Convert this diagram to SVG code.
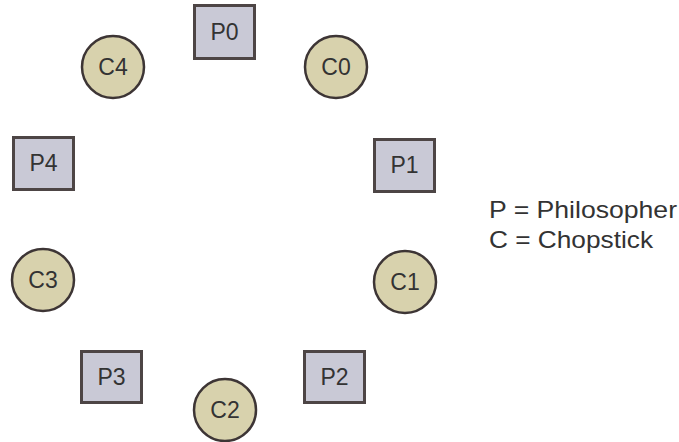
<svg xmlns="http://www.w3.org/2000/svg" width="679" height="442" viewBox="0 0 679 442">
<style>
.p{fill:#c9c9d6;stroke:#4d4545;stroke-width:3}
.c{fill:#d8d2ad;stroke:#3d3535;stroke-width:2.5}
.t{font-family:"Liberation Sans",Arial,sans-serif;font-size:23px;fill:#333;text-anchor:middle}
.l{font-family:"Liberation Sans",Arial,sans-serif;font-size:24px;fill:#333}
</style>
<rect width="679" height="442" fill="#fff"/>
<g id="P0"><rect class="p" x="194.5" y="5.5" width="60" height="53"/><text class="t" x="224.5" y="40">P0</text></g>
<g id="C0"><circle class="c" cx="336" cy="67" r="31"/><text class="t" x="336" y="75">C0</text></g>
<g id="P1"><rect class="p" x="374.5" y="139.5" width="60" height="52"/><text class="t" x="404.5" y="173">P1</text></g>
<g id="C1"><circle class="c" cx="405" cy="282" r="31"/><text class="t" x="405" y="290">C1</text></g>
<g id="P2"><rect class="p" x="304.5" y="351.5" width="60" height="51"/><text class="t" x="334.5" y="385">P2</text></g>
<g id="C2"><circle class="c" cx="225" cy="410" r="31"/><text class="t" x="225" y="418">C2</text></g>
<g id="P3"><rect class="p" x="81.5" y="351.5" width="60" height="51"/><text class="t" x="111.5" y="385">P3</text></g>
<g id="C3"><circle class="c" cx="43" cy="280" r="31"/><text class="t" x="43" y="288">C3</text></g>
<g id="P4"><rect class="p" x="13.5" y="137.5" width="60" height="52"/><text class="t" x="43.5" y="171">P4</text></g>
<g id="C4"><circle class="c" cx="113" cy="67" r="31"/><text class="t" x="113" y="75">C4</text></g>
<g id="connectors"></g>
<g id="legend">
<text class="l" x="489" y="218" textLength="188" lengthAdjust="spacingAndGlyphs">P = Philosopher</text>
<text class="l" x="489" y="248" textLength="164" lengthAdjust="spacingAndGlyphs">C = Chopstick</text>
</g>
</svg>
